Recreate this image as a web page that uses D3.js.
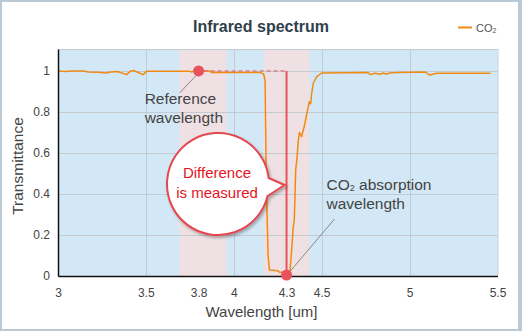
<!DOCTYPE html>
<html><head><meta charset="utf-8">
<script src="https://cdn.jsdelivr.net/npm/d3@7"></script>
<style>
html,body{margin:0;padding:0;background:#fff;}
svg{display:block;font-family:"Liberation Sans",Arial,sans-serif;}
</style></head>
<body>
<svg id="chart" width="522" height="331"></svg>
<script>
// ---- data ----
const wavelength = [3.00,3.04,3.08,3.15,3.17,3.23,3.27,3.30,3.34,3.39,3.41,3.43,3.45,3.485,3.505,3.60,3.75,3.76,3.78,3.82,3.86,3.875,
  4.15,4.17,4.178,4.185,4.195,4.203,4.25,4.26,4.31,4.32,4.331,4.338,4.344,4.352,4.358,4.367,4.373,4.386,4.395,4.405,4.415,4.424,4.429,4.437,4.443,4.452,4.472,4.50,
  4.765,4.775,4.803,4.832,4.849,4.866,4.889,4.934,5.087,5.116,5.154,5.46];
const co2 = [1.000,0.997,1.000,1.000,0.995,0.994,0.990,0.995,0.997,0.982,0.998,1.002,0.995,0.982,0.999,0.998,0.998,0.995,1.003,1.000,1.000,0.992,
  0.992,0.985,0.95,0.444,0.10,0.029,0.026,0.018,0.018,0.03,0.15,0.24,0.27,0.52,0.56,0.66,0.70,0.68,0.71,0.745,0.79,0.826,0.85,0.84,0.89,0.94,0.972,0.99,
  0.993,0.982,0.989,0.984,0.99,0.985,0.99,0.993,0.995,0.98,0.989,0.989];
const xTicks = [3, 3.5, 3.8, 4, 4.3, 4.5, 5, 5.5];
const xGrid = [3.5, 4, 4.5, 5];
const yTicks = [0, 0.2, 0.4, 0.6, 0.8, 1];
const bands = [[3.69, 3.96], [4.17, 4.43]];
const refWavelength = 3.8;
const absWavelength = 4.3;
const refValue = 1.0;
const absValue = 0.0;

const svg = d3.select("#chart");
const W = 522, H = 331;
// frame
svg.append("rect").attr("width", W).attr("height", H).attr("fill", "#b9cad6");
svg.append("rect").attr("x", 2).attr("y", 2).attr("width", W - 6).attr("height", H - 4).attr("fill", "#fff");

const x = d3.scaleLinear().domain([3, 5.5]).range([58, 497.5]);
const y = d3.scaleLinear().domain([0, 1.107]).range([276, 49]);
const [x0, x1] = x.range(); const [y0, y1] = y.range();

const defs = svg.append("defs");
const f = defs.append("filter").attr("id", "sh").attr("x", "-20%").attr("y", "-20%").attr("width", "150%").attr("height", "150%");
f.append("feDropShadow").attr("dx", 1.5).attr("dy", 2).attr("stdDeviation", 1.6).attr("flood-color", "#000").attr("flood-opacity", 0.3);

// plot background
svg.append("rect").attr("x", x0).attr("y", y1).attr("width", x1 - x0).attr("height", y0 - y1).attr("fill", "#d3e8f6");
svg.append("g").selectAll("rect").data(bands).join("rect")
  .attr("x", d => x(d[0])).attr("y", y1).attr("width", d => x(d[1]) - x(d[0])).attr("height", y0 - y1)
  .attr("fill", "#efe1e3");

// grid
const grid = svg.append("g").attr("stroke", "#c3cbd0").attr("stroke-width", 1);
grid.selectAll(".gy").data(yTicks.filter(d => d > 0)).join("line")
  .attr("x1", x0).attr("x2", x1).attr("y1", d => Math.round(y(d)) + 0.5).attr("y2", d => Math.round(y(d)) + 0.5);
grid.selectAll(".gx").data(xGrid).join("line")
  .attr("x1", d => Math.round(x(d)) + 0.5).attr("x2", d => Math.round(x(d)) + 0.5).attr("y1", y1).attr("y2", y0);
// top & right border
grid.append("line").attr("x1", x0).attr("x2", x1).attr("y1", y1 + 0.5).attr("y2", y1 + 0.5);
grid.append("line").attr("x1", x1 + 0.5).attr("x2", x1 + 0.5).attr("y1", y1).attr("y2", y0);

// spectrum line
const pts = wavelength.map((w, i) => [w, co2[i]]);
svg.append("path").datum(pts)
  .attr("fill", "none").attr("stroke", "#f08a12").attr("stroke-width", 1.5).attr("stroke-linejoin", "round")
  .attr("d", d3.line().x(d => x(d[0])).y(d => y(d[1])));

// axes
const xAxis = svg.append("g").attr("transform", `translate(0,${y0})`)
  .call(d3.axisBottom(x).tickValues(xTicks).tickSize(0).tickPadding(12).tickFormat(d3.format("~g")));
xAxis.select(".domain").attr("stroke", "#111").attr("stroke-width", 1.5);
xAxis.selectAll("text").attr("font-size", 12).attr("fill", "#444").attr("font-family", "Liberation Sans, Arial, sans-serif");

const yAxis = svg.append("g").attr("transform", `translate(${x0},0)`)
  .call(d3.axisLeft(y).tickValues(yTicks).tickSize(0).tickPadding(8).tickFormat(d3.format("~g")));
yAxis.select(".domain").attr("stroke", "#111").attr("stroke-width", 1.5);
yAxis.selectAll("text").attr("font-size", 12).attr("fill", "#444").attr("font-family", "Liberation Sans, Arial, sans-serif");

// annotations: dashed reference line, measurement line, dots
const red = "#e8525a";
svg.append("line").attr("x1", x(refWavelength) + 5).attr("x2", x(absWavelength)).attr("y1", y(refValue)).attr("y2", y(refValue))
  .attr("stroke", red).attr("stroke-width", 1).attr("stroke-dasharray", "4,3");
svg.append("line").attr("x1", x(absWavelength)).attr("x2", x(absWavelength)).attr("y1", y(refValue)).attr("y2", y(absValue))
  .attr("stroke", red).attr("stroke-width", 2);

// leader lines
svg.append("line").attr("x1", x(refWavelength) - 2).attr("y1", y(refValue) + 4).attr("x2", x(refWavelength) - 19).attr("y2", y(refValue) + 22)
  .attr("stroke", "#888").attr("stroke-width", 1);
svg.append("line").attr("x1", x(absWavelength) + 3).attr("y1", y(absValue) - 4).attr("x2", x(absWavelength) + 48).attr("y2", y(absValue) - 57)
  .attr("stroke", "#888").attr("stroke-width", 1);

svg.append("circle").attr("cx", x(refWavelength)).attr("cy", y(refValue)).attr("r", 5.5).attr("fill", red);
svg.append("circle").attr("cx", x(absWavelength)).attr("cy", y(absValue) - 1).attr("r", 5.5).attr("fill", red);

// labels
const lab = svg.append("g").attr("font-size", 15.5).attr("fill", "#444");
lab.append("text").attr("x", x(refWavelength) - 54).attr("y", 104).text("Reference");
lab.append("text").attr("x", x(refWavelength) - 54).attr("y", 123).text("wavelength");
const t1 = lab.append("text").attr("x", x(absWavelength) + 40).attr("y", 190);
t1.append("tspan").text("CO");
t1.append("tspan").attr("font-size", 9).attr("dy", 1).text("2");
t1.append("tspan").attr("dy", -1).text(" absorption");
lab.append("text").attr("x", x(absWavelength) + 40).attr("y", 209).text("wavelength");

// speech bubble
const cx = 218, cy = 184, r = 51;
const a1 = Math.asin(-6 / r), a2 = Math.asin(12 / r);
const p1 = [cx + r * Math.cos(a1), cy + r * Math.sin(a1)], p2 = [cx + r * Math.cos(a2), cy + r * Math.sin(a2)];
const tip = [x(absWavelength) - 2, 185];
svg.append("path")
  .attr("d", `M${tip[0]},${tip[1]} L${p1[0]},${p1[1]} A${r},${r} 0 1 0 ${p2[0]},${p2[1]} Z`)
  .attr("fill", "#fff").attr("stroke", "#e3474f").attr("stroke-width", 2).attr("stroke-linejoin", "miter")
  .attr("filter", "url(#sh)");
const bt = svg.append("g").attr("font-size", 15).attr("fill", "#e5141f").attr("text-anchor", "middle");
bt.append("text").attr("x", cx - 1).attr("y", 178).text("Difference");
bt.append("text").attr("x", cx - 1).attr("y", 198).text("is measured");

// title
svg.append("text").attr("x", 261).attr("y", 31.5).attr("text-anchor", "middle").attr("font-size", 16)
  .attr("font-weight", "bold").attr("fill", "#2f3f4b").text("Infrared spectrum");

// legend
svg.append("line").attr("x1", 458).attr("x2", 472).attr("y1", 27.5).attr("y2", 27.5).attr("stroke", "#f08a12").attr("stroke-width", 2);
const lt = svg.append("text").attr("x", 476).attr("y", 31.5).attr("font-size", 11).attr("fill", "#555");
lt.append("tspan").text("CO");
lt.append("tspan").attr("font-size", 7).attr("dy", 1).text("2");

// axis titles
svg.append("text").attr("x", 261.5).attr("y", 316.5).attr("text-anchor", "middle").attr("font-size", 15).attr("fill", "#444")
  .text("Wavelength [um]");
svg.append("text").attr("transform", "translate(23,166) rotate(-90)").attr("text-anchor", "middle").attr("font-size", 15.5).attr("fill", "#444")
  .text("Transmittance");
</script>
</body></html>
